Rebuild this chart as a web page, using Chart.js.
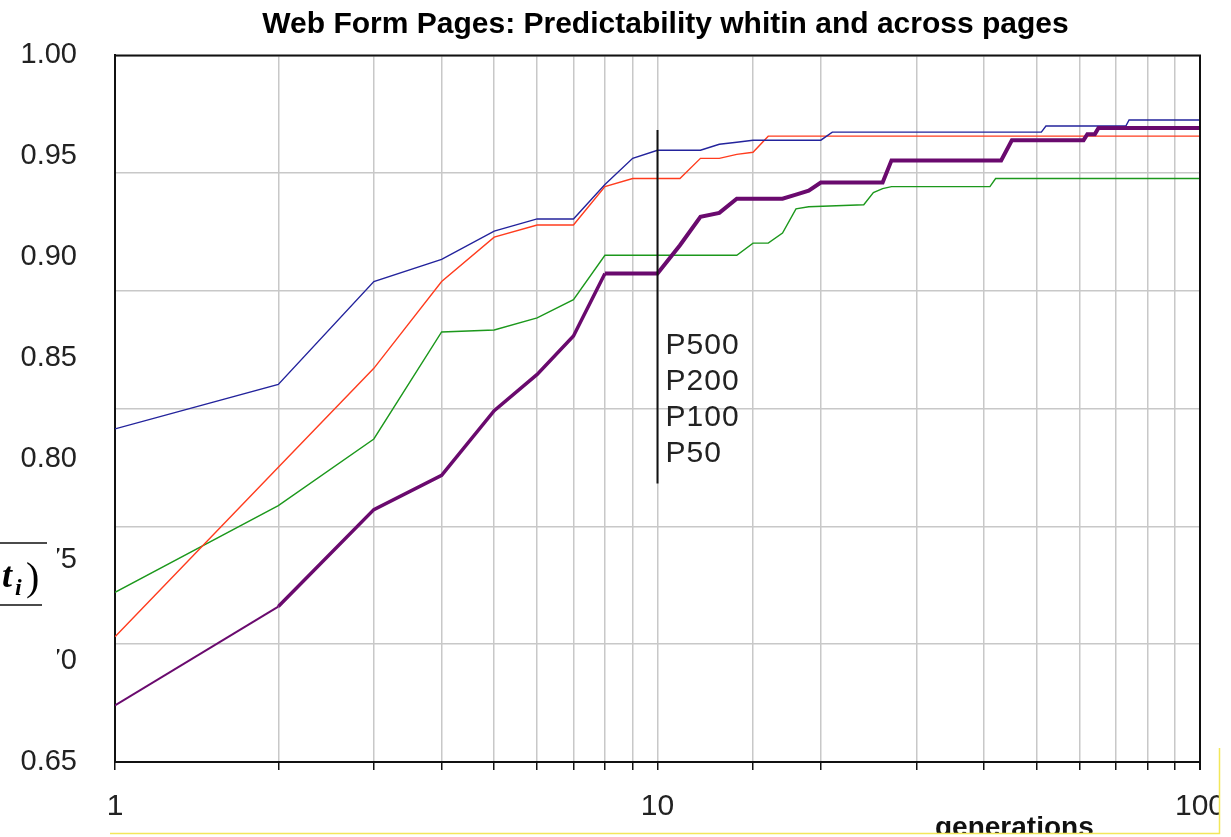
<!DOCTYPE html>
<html>
<head>
<meta charset="utf-8">
<script src="https://cdn.jsdelivr.net/npm/chart.js@4/dist/chart.umd.min.js"></script>
<style>
  body { margin: 0; background: #fff; }
  canvas { display: block; }
</style>
</head>
<body>
<canvas id="chart" width="1231" height="837"></canvas>
<script>
// data (x = generations, y = predictability)
const p500Gen = [1, 2, 3, 4, 5, 6, 7, 8, 9, 10, 11, 12, 13, 14, 15, 20, 21, 51, 52, 73, 74, 100];
const p500Val = [0.815, 0.837, 0.888, 0.899, 0.913, 0.919, 0.919, 0.936, 0.949, 0.953, 0.953, 0.953, 0.956, 0.957, 0.958, 0.958, 0.962, 0.962, 0.965, 0.965, 0.968, 0.968];

const p200Gen = [1, 2, 3, 4, 5, 6, 7, 8, 9, 10, 11, 12, 13, 14, 15, 16, 100];
const p200Val = [0.712, 0.796, 0.845, 0.888, 0.910, 0.916, 0.916, 0.935, 0.939, 0.939, 0.939, 0.949, 0.949, 0.951, 0.952, 0.960, 0.960];

const p100Gen = [1, 2, 3, 4, 5, 6, 7, 8, 14, 15, 16, 17, 18, 19, 24, 25, 26, 27, 41, 42, 100];
const p100Val = [0.734, 0.777, 0.810, 0.863, 0.864, 0.870, 0.879, 0.901, 0.901, 0.907, 0.907, 0.912, 0.924, 0.925, 0.926, 0.932, 0.934, 0.935, 0.935, 0.939, 0.939];

const p50Gen = [1, 2, 3, 4, 5, 6, 7, 8, 10, 11, 12, 13, 14, 17, 18, 19, 20, 26, 27, 43, 45, 61, 62, 64, 65, 100];
const p50Val = [0.678, 0.727, 0.775, 0.792, 0.824, 0.842, 0.861, 0.892, 0.892, 0.906, 0.920, 0.922, 0.929, 0.929, 0.931, 0.933, 0.937, 0.937, 0.948, 0.948, 0.958, 0.958, 0.961, 0.961, 0.964, 0.964];

// vertical marker at generation 10 and its labels
const markerGen = [10, 10];
const markerVal = [0.963, 0.788];
const markerLabels = ["P500", "P200", "P100", "P50"];

const xLabels = [1, 10, 100];
const titleText = "Web Form Pages: Predictability whitin and across pages";

const pts = (gs, vs) => gs.map((g, i) => ({ x: g, y: vs[i] }));

const decor = {
    id: "decor",
    beforeDraw(chart) {
        const ctx = chart.ctx;
        ctx.save();
        ctx.fillStyle = "#fff";
        ctx.fillRect(0, 0, chart.width, chart.height);
        ctx.restore();
    },
    afterDraw(chart) {
        const ctx = chart.ctx;
        const a = chart.chartArea;
        const xs = chart.scales.x, ys = chart.scales.y;
        ctx.save();

        // frame top / right
        ctx.strokeStyle = "#111";
        ctx.lineWidth = 2;
        ctx.beginPath();
        ctx.moveTo(a.left, a.top);
        ctx.lineTo(a.right, a.top);
        ctx.lineTo(a.right, a.bottom + 8);
        ctx.stroke();

        // title
        ctx.fillStyle = "#000";
        ctx.font = "bold 30px 'Liberation Sans', Arial, sans-serif";
        ctx.textAlign = "center";
        ctx.textBaseline = "alphabetic";
        ctx.fillText(titleText, (a.left + a.right) / 2 + 8, 33);

        // marker labels
        const mx = xs.getPixelForValue(10) + 8;
        ctx.font = "30px 'Liberation Sans', Arial, sans-serif";
        ctx.letterSpacing = "1px";
        ctx.fillStyle = "#222";
        ctx.textAlign = "left";
        ctx.textBaseline = "middle";
        const y0 = ys.getPixelForValue(0.856);
        markerLabels.forEach((t, i) => ctx.fillText(t, mx, y0 + i * 36));
        ctx.letterSpacing = "0px";

        // formula fragment on the left covering part of the tick labels
        ctx.fillStyle = "#fff";
        ctx.fillRect(0, 530, 57, 165);
        ctx.strokeStyle = "#111";
        ctx.lineWidth = 1.5;
        ctx.beginPath();
        ctx.moveTo(0, 543); ctx.lineTo(47, 543);
        ctx.moveTo(0, 605); ctx.lineTo(42, 605);
        ctx.stroke();
        ctx.fillStyle = "#000";
        ctx.textBaseline = "alphabetic";
        ctx.font = "italic bold 36px 'Liberation Serif', serif";
        ctx.fillText("t", 2, 587);
        ctx.font = "italic bold 24px 'Liberation Serif', serif";
        ctx.fillText("i", 15, 595);
        ctx.font = "40px 'Liberation Serif', serif";
        ctx.fillText(")", 26, 590);

        // axis title, cut at the bottom edge
        ctx.font = "bold 28px 'Liberation Sans', Arial, sans-serif";
        ctx.fillStyle = "#111";
        ctx.fillText("generations", 935, 836);
        ctx.fillStyle = "#fff";
        ctx.fillRect(0, 834, chart.width, 10);
        ctx.fillRect(1220, 745, 20, 100);
        ctx.strokeStyle = "#f2e75a";
        ctx.lineWidth = 1.5;
        ctx.beginPath();
        ctx.moveTo(110, 833.5); ctx.lineTo(1219.5, 833.5);
        ctx.lineTo(1219.5, 748);
        ctx.stroke();
        ctx.restore();
    }
};

new Chart(document.getElementById("chart"), {
    type: "line",
    data: {
        datasets: [
            {
                label: "marker",
                data: pts(markerGen, markerVal),
                borderColor: "#111",
                borderWidth: 2,
                pointRadius: 0,
                order: 0
            },
            {
                label: "P50",
                data: pts(p50Gen, p50Val),
                borderColor: "#6a0a6e",
                borderWidth: 3.5,
                segment: { borderWidth: c => c.p0DataIndex === 0 ? 2 : (c.p0.parsed.x >= 8 ? 4 : 3.5) },
                pointRadius: 0,
                order: 1
            },
            {
                label: "P500",
                data: pts(p500Gen, p500Val),
                borderColor: "#23239c",
                borderWidth: 1.4,
                pointRadius: 0,
                order: 2
            },
            {
                label: "P200",
                data: pts(p200Gen, p200Val),
                borderColor: "#ff3c1e",
                borderWidth: 1.4,
                pointRadius: 0,
                order: 3
            },
            {
                label: "P100",
                data: pts(p100Gen, p100Val),
                borderColor: "#1c981c",
                borderWidth: 1.4,
                pointRadius: 0,
                order: 4
            }
        ]
    },
    options: {
        responsive: false,
        animation: false,
        devicePixelRatio: 1,
        layout: { padding: { top: 52, right: 31, left: 0, bottom: 0 } },
        plugins: {
            legend: { display: false },
            tooltip: { enabled: false }
        },
        elements: { line: { tension: 0 } },
        scales: {
            x: {
                type: "logarithmic",
                min: 1,
                max: 100,
                afterFit: s => { s.height = 75; s.paddingRight = 0; s.paddingLeft = 0; },
                border: { display: true, color: "#111", width: 2 },
                grid: {
                    color: "#c8c8c8",
                    lineWidth: 1.5,
                    drawTicks: true,
                    tickLength: 8,
                    tickColor: "#111",
                    tickWidth: 1.5
                },
                ticks: {
                    autoSkip: false,
                    maxRotation: 0,
                    padding: 19,
                    color: "#222",
                    font: { family: "'Liberation Sans', Arial, sans-serif", size: 30 },
                    callback: v => xLabels.includes(v) ? String(v) : ""
                }
            },
            y: {
                type: "linear",
                min: 0.65,
                max: 1.0,
                afterFit: s => { s.width = 115; },
                border: { display: true, color: "#111", width: 2 },
                grid: { display: false, drawTicks: false },
                ticks: {
                    stepSize: 0.05,
                    padding: 38,
                    color: "#222",
                    font: { family: "'Liberation Sans', Arial, sans-serif", size: 29 },
                    callback: v => v.toFixed(2)
                }
            },
            grid6: {
                type: "linear",
                position: "left",
                min: 0,
                max: 6,
                afterFit: s => { s.width = 0; },
                border: { display: false },
                grid: { color: "#c8c8c8", lineWidth: 1.5, drawTicks: false },
                ticks: { display: false, stepSize: 1 }
            }
        }
    },
    plugins: [decor]
});
</script>
</body>
</html>
